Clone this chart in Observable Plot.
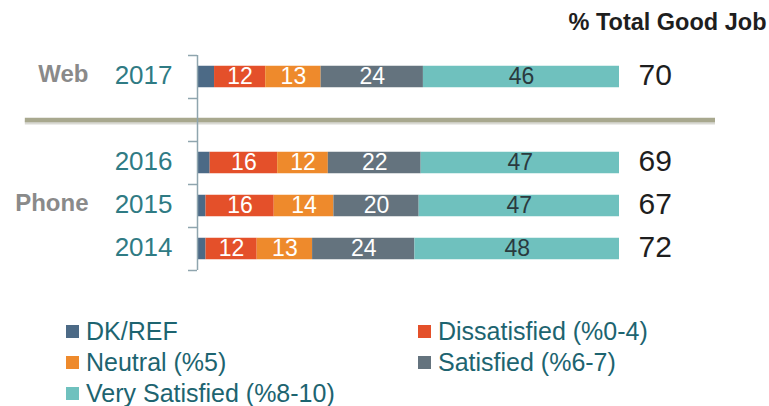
<!DOCTYPE html>
<html>
<head>
<meta charset="utf-8">
<script src="https://cdn.jsdelivr.net/npm/d3@7"></script>
<script src="https://cdn.jsdelivr.net/npm/@observablehq/plot@0.6"></script>
<style>
  html, body { margin: 0; padding: 0; background: #fff; }
  #wrap { width: 769px; font-family: "Liberation Sans", Arial, sans-serif; }
  #legend { display: grid; grid-template-columns: 352px auto; padding: 16px 0 0 66px; }
  .item { display: flex; align-items: center; height: 31px; font-size: 25px; color: #1d6470; white-space: nowrap; }
  .sw { width: 13px; height: 13px; margin-right: 7px; flex: none; }
</style>
</head>
<body>
<div id="wrap"></div>
<script>
// ---- data ----
const rowOrder = ["2017", "", "2016", "2015", "2014"];
const years = ["2017", "2016", "2015", "2014"];
const categories = ["DK/REF", "Dissatisfied (%0-4)", "Neutral (%5)", "Satisfied (%6-7)", "Very Satisfied (%8-10)"];
const colors = ["#4c6a86", "#e4502a", "#ee8a2c", "#64737e", "#6fc1be"];
const dkRef = [4, 3, 2, 2];
const dissatisfied = [12, 16, 16, 12];
const neutral = [13, 12, 14, 13];
const satisfied = [24, 22, 20, 24];
const verySatisfied = [46, 47, 47, 48];
const totalGoodJob = [70, 69, 67, 72];
const groups = [{label: "Web", year: "2017"}, {label: "Phone", year: "2015"}];
const totalTitle = "% Total Good Job";

const series = [dkRef, dissatisfied, neutral, satisfied, verySatisfied];
const data = [];
years.forEach((yr, i) => {
  categories.forEach((cat, j) => {
    data.push({year: yr, slot: rowOrder.indexOf(yr), category: cat, value: series[j][i]});
  });
});
const totals = years.map((yr, i) => ({year: yr, slot: rowOrder.indexOf(yr), total: totalGoodJob[i]}));
const groupRows = groups.map(g => ({...g, slot: rowOrder.indexOf(g.year)}));

const stackOpts = {x: "value", z: "category", offset: "normalize", order: null};

const plot = Plot.plot({
  width: 769,
  height: 300,
  marginLeft: 197,
  marginRight: 150,
  marginTop: 55,
  marginBottom: 30,
  style: {fontFamily: "'Liberation Sans', Arial, sans-serif", background: "#fff"},
  x: {domain: [0, 1], axis: null},
  y: {domain: [0, rowOrder.length], reverse: true, axis: null},
  color: {domain: categories, range: colors},
  marks: [
    // separator between Web and Phone
    Plot.ruleY([rowOrder.indexOf("") + 0.5], {x1: -0.408, x2: 1.2275, stroke: "#c9c9c0", strokeWidth: 4, dy: 2.5, strokeOpacity: 0.7}),
    Plot.ruleY([rowOrder.indexOf("") + 0.5], {x1: -0.408, x2: 1.2275, stroke: "#a8a88e", strokeWidth: 4.5}),
    Plot.rectX(data, Plot.stackX({...stackOpts, y1: d => d.slot + 0.25, y2: d => d.slot + 0.75, fill: "category"})),
    Plot.text(data, Plot.stackX({...stackOpts, y: d => d.slot + 0.5,
      text: d => (d.category === categories[0] || d.category === categories[4]) ? "" : String(d.value),
      fill: "white", fontSize: 23})),
    Plot.text(data, Plot.stackX({...stackOpts, y: d => d.slot + 0.5,
      text: d => d.category === categories[4] ? String(d.value) : "",
      fill: "#2a3a3e", fontSize: 23})),
    // axis line and boundary ticks
    Plot.axisY({ticks: d3.range(0, rowOrder.length + 1), tickSize: 9, tickFormat: () => "", stroke: "#8fa5ae", strokeWidth: 1.5, strokeOpacity: 1}),
    Plot.ruleX([0], {y1: 0, y2: rowOrder.length, stroke: "#8fa5ae", strokeWidth: 1.5}),
    // year labels
    Plot.text(totals, {x: 0, y: d => d.slot + 0.5, text: "year", textAnchor: "end", dx: -25, dy: -1, fontSize: 26, fill: "#2f7b84"}),
    // group labels
    Plot.text(groupRows, {x: 0, y: d => d.slot + 0.5, text: "label", textAnchor: "end", dx: -109, dy: -3, fontSize: 24, fontWeight: "bold", fill: "#8a8a8a"}),
    // totals
    Plot.text(totals, {x: 1, y: d => d.slot + 0.5, text: "total", textAnchor: "start", dx: 19, dy: -2, fontSize: 30, fill: "#1e1e1e"}),
    // column header
    Plot.text([totalTitle], {frameAnchor: "top-right", text: d => d, textAnchor: "end", lineAnchor: "bottom", dx: 147, dy: -26, fontSize: 23.5, fontWeight: "bold", fill: "#1e1e1e"})
  ]
});

const wrap = document.getElementById("wrap");
wrap.appendChild(plot);

const legend = document.createElement("div");
legend.id = "legend";
categories.forEach((cat, j) => {
  const item = document.createElement("div");
  item.className = "item";
  const sw = document.createElement("span");
  sw.className = "sw";
  sw.style.background = colors[j];
  const label = document.createElement("span");
  label.textContent = cat;
  item.appendChild(sw);
  item.appendChild(label);
  legend.appendChild(item);
});
wrap.appendChild(legend);
</script>
</body>
</html>
